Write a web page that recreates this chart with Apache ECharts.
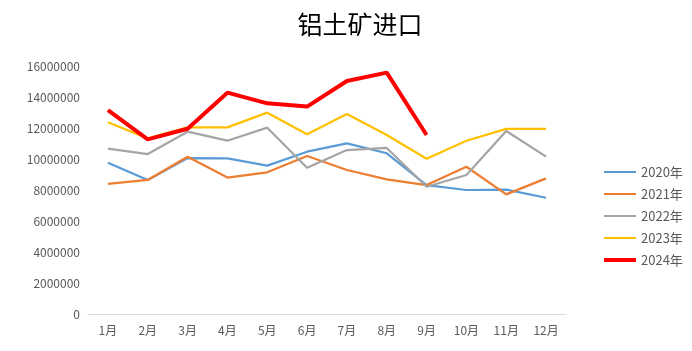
<!DOCTYPE html>
<html>
<head>
<meta charset="utf-8">
<script src="https://cdn.jsdelivr.net/npm/echarts@6/dist/echarts.min.js"></script>
<style>
  html, body { margin: 0; padding: 0; background: #fff; }
  #chart { width: 692px; height: 351px; }
</style>
</head>
<body>
<div id="chart"></div>
<script>
"use strict";

const MONTHS = ["1月", "2月", "3月", "4月", "5月", "6月", "7月", "8月", "9月", "10月", "11月", "12月"];
const YEARS = ["2020年", "2021年", "2022年", "2023年", "2024年"];

// 月度进口量 (吨), 读图估算
const Y2020 = [9760000, 8650000, 10060000, 10040000, 9570000, 10470000, 11010000, 10370000, 8320000, 8000000, 8020000, 7500000];
const Y2021 = [8390000, 8650000, 10150000, 8800000, 9140000, 10190000, 9290000, 8690000, 8320000, 9500000, 7720000, 8750000];
const Y2022 = [10670000, 10320000, 11760000, 11180000, 12020000, 9440000, 10580000, 10710000, 8210000, 8970000, 11810000, 10150000];
const Y2023 = [12370000, 11330000, 12040000, 12040000, 12990000, 11590000, 12900000, 11550000, 10020000, 11180000, 11940000, 11940000];
const Y2024 = [13160000, 11270000, 11950000, 14280000, 13590000, 13380000, 15030000, 15570000, 11550000];

const COLORS = ["#5B9BD5", "#ED7D31", "#A5A5A5", "#FFC000", "#FF0000"];
const WIDTHS = [2.25, 2.25, 2.25, 2.25, 4];

const font = "'Noto Sans CJK SC', 'Noto Sans', sans-serif";

const seriesData = [Y2020, Y2021, Y2022, Y2023, Y2024];

const chart = echarts.init(document.getElementById("chart"));
chart.setOption({
  animation: false,
  color: COLORS,
  title: {
    text: "铝土矿进口", left: 355, top: 7, textAlign: "center",
    textStyle: { fontFamily: font, fontSize: 25, fontWeight: "normal", color: "#000" },
  },
  legend: {
    orient: "vertical", left: 599, top: 160, itemGap: 8,
    itemWidth: 32, itemHeight: 14,
    data: YEARS.map((n, i) => ({ name: n, icon: i === 4 ? "path://M0,0 L32,0 L32,4 L0,4 Z" : "path://M0,0 L32,0 L32,2 L0,2 Z" })),
    textStyle: { fontFamily: font, fontSize: 13, color: "#595959", lineHeight: 14 },
  },
  grid: { left: 88, right: 126, top: 66, bottom: 37 },
  xAxis: {
    type: "category", data: MONTHS, boundaryGap: true,
    axisLine: { lineStyle: { color: "#D9D9D9", width: 1 } },
    axisTick: { show: false },
    axisLabel: { fontFamily: font, fontSize: 12, color: "#595959", margin: 10 },
  },
  yAxis: {
    type: "value", min: 0, max: 16000000, interval: 2000000,
    axisLine: { show: false }, axisTick: { show: false },
    splitLine: { show: false },
    axisLabel: { fontFamily: font, fontSize: 12, color: "#595959", margin: 8, formatter: v => String(v) },
  },
  series: YEARS.map((n, i) => ({
    name: n, type: "line", data: seriesData[i], symbol: "none",
    lineStyle: { width: WIDTHS[i], color: COLORS[i] },
    itemStyle: { color: COLORS[i] },
    z: i === 4 ? 10 : 2 + i,
  })),
});
</script>
</body>
</html>
